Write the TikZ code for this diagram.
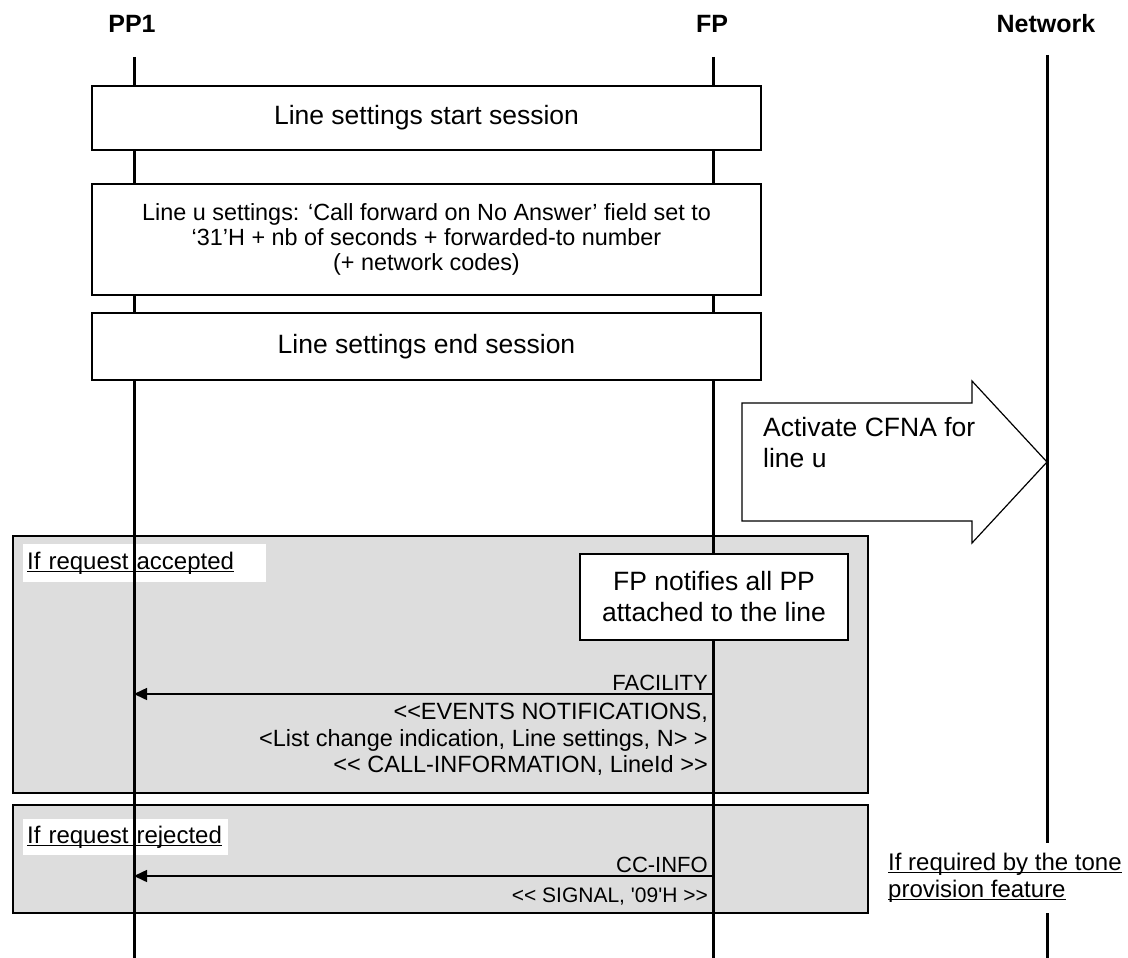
\documentclass[tikz,border=0pt]{standalone}
\usepackage{fontspec}
\setmainfont{Liberation Sans}
\usetikzlibrary{arrows.meta}

\definecolor{boxgray}{RGB}{221,221,221}
% underline close to the baseline, like the word processor does it
\newcommand\undertext[1]{\setbox0\hbox{#1}\rlap{\rule[-2.5pt]{\wd0}{1.4pt}}\box0}

\begin{document}
\begin{tikzpicture}[x=1pt, y=-1pt,
  every node/.style={inner sep=0pt},
  actor/.style={font=\fontsize{25}{30}\selectfont\bfseries},
  big/.style={font=\fontsize{26.5}{31}\selectfont},
  small/.style={font=\fontsize{22}{26.5}\selectfont},
  life/.style={line width=3pt},
  stepbox/.style={draw, line width=1.2pt, fill=white, align=center},
  region/.style={draw, line width=1.5pt, fill=boxgray, minimum width=855pt},
  tag/.style={fill=white, inner xsep=4pt, align=left, font=\fontsize{24}{27}\selectfont},
  msg/.style={-{Triangle[length=13pt,width=12pt]}, line width=1.5pt}]
  \useasboundingbox (0,0) rectangle (1128,958);

  % actors
  \node[actor] (PP1) at (132,24) {PP1};
  \node[actor] (FP)  at (712,24) {FP};
  \node[actor] (NW)  at (1046,24) {Network};

  \coordinate (PP1a) at (134,57);  \coordinate (PP1b) at (134,958);
  \coordinate (FPa)  at (713,57);  \coordinate (FPb)  at (713,958);
  \coordinate (NWa)  at (1047,55); \coordinate (NWb)  at (1047,958);

  % conditional regions
  \node[region, minimum height=257pt] (acc) at (440.5,664.5) {};
  \node[region, minimum height=108pt] (rej) at (440.5,859) {};
  \node[tag, anchor=north west, text width=235pt, minimum height=38pt] (accT) at (23,544)
    {\undertext{If request accepted}};
  \node[tag, anchor=north west, text width=197pt, minimum height=36pt] (rejT) at (23,819)
    {\undertext{If request rejected}};

  % lifelines
  \draw[life] (PP1a) -- (PP1b);
  \draw[life] (FPa) -- (FPb);
  \draw[life] (NWa) -- (NWb);

  % line settings session
  \node[stepbox, big, minimum width=669pt, minimum height=64pt] (start) at (426.5,118)
    {\raisebox{2pt}{Line settings start session}};
  \node[stepbox, font=\fontsize{23.4}{25}\selectfont, minimum width=669pt, minimum height=111pt] (setu) at (426.5,239.5)
    {Line u settings: `Call forward on No Answer' field set to\\
     `31'H + nb of seconds + forwarded-to number\\
     (+ network codes)};
  \node[stepbox, big, minimum width=669pt, minimum height=67pt] (stop) at (426.5,346.5)
    {\raisebox{4pt}{Line settings end session}};

  % block arrow towards the network
  \draw[line width=1.2pt, fill=white] (742,403) -- (972,403) -- (972,381) -- (1047,462)
    -- (972,543) -- (972,521) -- (742,521) -- cycle;
  \node[big, anchor=north west, align=left] (cfna) at (763,417) {Activate CFNA for\\line u};

  % accepted
  \node[stepbox, big, minimum width=268pt, minimum height=86pt] (notif) at (714,597)
    {FP notifies all PP\\attached to the line};
  \coordinate (fac1) at (713,694);
  \coordinate (fac2) at (134,694);
  \draw[msg] (fac1) -- (fac2);
  \node[small, anchor=base east] (facT) at (708,690) {FACILITY};
  \node[small, font=\fontsize{23.5}{26.5}\selectfont, anchor=north east, align=right] (facP) at (708,703)
    {<{}<EVENTS NOTIFICATIONS,\\
     <List change indication, Line settings, N> >\\
     <{}< CALL-INFORMATION, LineId >{}>};

  % rejected
  \coordinate (cc1) at (713,876);
  \coordinate (cc2) at (134,876);
  \draw[msg] (cc1) -- (cc2);
  \node[small, anchor=base east] (ccT) at (708,872) {CC-INFO};
  \node[small, font=\fontsize{21}{25}\selectfont, anchor=base east] (ccP) at (708,902)
    {<{}< SIGNAL, \textquotesingle09\textquotesingle H >{}>};
  \node[tag, anchor=north west, minimum height=70pt] (tone) at (884,843)
    {\undertext{If required by the tone}\\\undertext{provision feature}};
\end{tikzpicture}
\end{document}
